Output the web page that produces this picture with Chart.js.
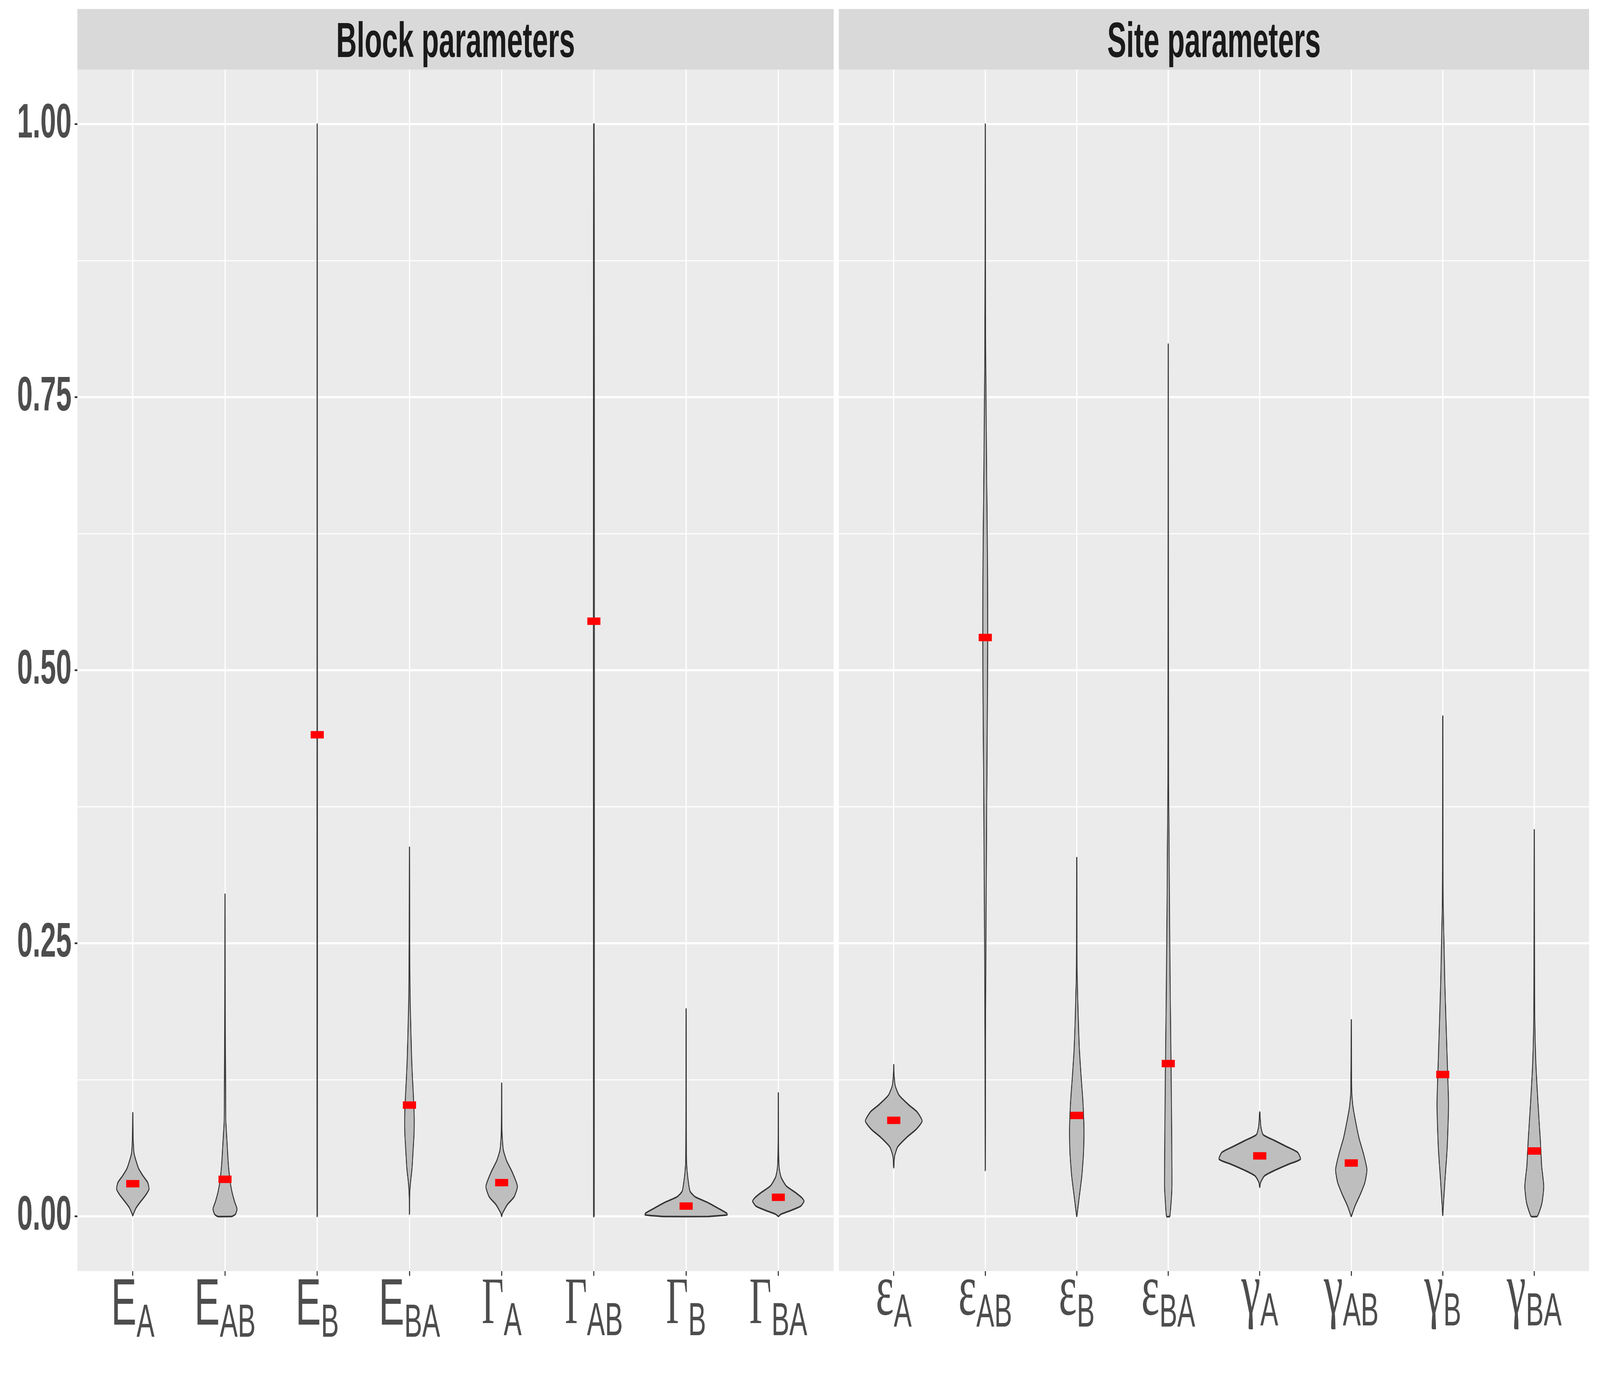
<!DOCTYPE html>
<html>
<head>
<meta charset="utf-8">
<script src="https://cdn.jsdelivr.net/npm/chart.js@4.4.0/dist/chart.umd.min.js"></script>
<style>
  html, body { margin: 0; padding: 0; background: #FFFFFF; overflow: hidden; }
  #wrap { position: relative; width: 100vw; height: 100vh; }
  #wrap canvas { position: absolute; left: 0; top: 0; }
</style>
</head>
<body>
<div id="wrap">
  <canvas id="block" width="7086" height="3543" style="width: 100vw; height: 100vh;"></canvas>
  <canvas id="site" width="7086" height="3543" style="width: 100vw; height: 100vh;"></canvas>
</div>
<script>
// categories (symbol + subscript)
const blockSymbols = ['E', 'E', 'E', 'E', 'Γ', 'Γ', 'Γ', 'Γ'];
const siteSymbols = ['ε', 'ε', 'ε', 'ε', 'γ', 'γ', 'γ', 'γ'];
const subscripts = ['A', 'AB', 'B', 'BA', 'A', 'AB', 'B', 'BA'];
const yTicks = [0, 0.25, 0.5, 0.75, 1.0];

// red marks
const blockMeans = [0.030, 0.034, 0.441, 0.102, 0.031, 0.545, 0.0095, 0.0176];
const siteMeans = [0.088, 0.530, 0.0925, 0.140, 0.0555, 0.049, 0.130, 0.060];

// violin profiles: [value, relative width]
const violinEA = [[0.0006, 0.002], [0.002, 0.012], [0.0079, 0.08], [0.0137, 0.19], [0.019, 0.30], [0.025, 0.39], [0.031, 0.36], [0.037, 0.25], [0.044, 0.14], [0.052, 0.07], [0.058, 0.03], [0.066, 0.015], [0.08, 0.005], [0.095, 0.002]];
const violinEAB = [[0, 0.17], [0.002, 0.25], [0.0069, 0.29], [0.0137, 0.23], [0.023, 0.165], [0.033, 0.12], [0.048, 0.08], [0.0675, 0.05], [0.087, 0.02], [0.119, 0.015], [0.148, 0.01], [0.2, 0.006], [0.25, 0.004], [0.295, 0.002]];
const violinEB = [[0, 0.004], [0.25, 0.005], [0.5, 0.004], [0.75, 0.003], [1.0, 0.002]];
const violinEBA = [[0.002, 0.002], [0.0175, 0.004], [0.029, 0.02], [0.044, 0.062], [0.0617, 0.09], [0.075, 0.11], [0.0906, 0.115], [0.11, 0.096], [0.129, 0.07], [0.148, 0.05], [0.17, 0.035], [0.2, 0.016], [0.25, 0.006], [0.338, 0.002]];
const violinGA = [[0, 0.002], [0.003, 0.02], [0.011, 0.14], [0.018, 0.30], [0.0276, 0.38], [0.041, 0.25], [0.051, 0.12], [0.061, 0.04], [0.076, 0.01], [0.1, 0.004], [0.122, 0.002]];
const violinGAB = [[0, 0.008], [0.25, 0.01], [0.55, 0.012], [0.8, 0.01], [1.0, 0.006]];
const violinGB = [[0, 0.55], [0.0015, 0.99], [0.003, 0.98], [0.008, 0.75], [0.013, 0.51], [0.018, 0.22], [0.023, 0.096], [0.031, 0.057], [0.041, 0.026], [0.051, 0.01], [0.08, 0.005], [0.12, 0.003], [0.19, 0.002]];
const violinGBA = [[0, 0.002], [0.002, 0.06], [0.0058, 0.32], [0.0095, 0.54], [0.014, 0.62], [0.017, 0.57], [0.022, 0.41], [0.028, 0.19], [0.036, 0.066], [0.043, 0.026], [0.053, 0.01], [0.08, 0.004], [0.113, 0.002]];

const violinEpsA = [[0.0445, 0.002], [0.055, 0.02], [0.0637, 0.096], [0.0726, 0.32], [0.080, 0.55], [0.0875, 0.69], [0.096, 0.56], [0.102, 0.37], [0.111, 0.13], [0.12, 0.034], [0.132, 0.005], [0.139, 0.002]];
const violinEpsAB = [[0.042, 0.002], [0.1, 0.004], [0.16, 0.006], [0.2, 0.01], [0.25, 0.016], [0.30, 0.024], [0.363, 0.033], [0.399, 0.04], [0.4125, 0.041], [0.476, 0.054], [0.53, 0.06], [0.581, 0.057], [0.623, 0.049], [0.687, 0.032], [0.75, 0.019], [0.792, 0.01], [0.877, 0.004], [1.0, 0.002]];
const violinEpsB = [[0, 0.002], [0.0044, 0.017], [0.019, 0.064], [0.037, 0.123], [0.058, 0.164], [0.0786, 0.176], [0.105, 0.15], [0.126, 0.11], [0.153, 0.064], [0.185, 0.034], [0.221, 0.01], [0.25, 0.005], [0.3285, 0.002]];
const violinEpsBA = [[0, 0.04], [0.0133, 0.07], [0.028, 0.09], [0.0726, 0.084], [0.132, 0.07], [0.191, 0.052], [0.28, 0.03], [0.339, 0.02], [0.399, 0.008], [0.5, 0.005], [0.65, 0.003], [0.7986, 0.002]];
const violinGamA = [[0.0266, 0.002], [0.031, 0.02], [0.037, 0.11], [0.042, 0.35], [0.048, 0.71], [0.0525, 0.99], [0.0587, 0.92], [0.064, 0.65], [0.0697, 0.35], [0.075, 0.08], [0.0825, 0.026], [0.0956, 0.003]];
const violinGamAB = [[0, 0.002], [0.0095, 0.09], [0.020, 0.216], [0.031, 0.33], [0.043, 0.38], [0.057, 0.30], [0.0715, 0.19], [0.086, 0.11], [0.1, 0.044], [0.112, 0.014], [0.14, 0.005], [0.18, 0.002]];
const violinGamB = [[0.001, 0.002], [0.0095, 0.014], [0.031, 0.05], [0.0606, 0.104], [0.086, 0.13], [0.104, 0.14], [0.141, 0.11], [0.177, 0.08], [0.214, 0.05], [0.25, 0.03], [0.287, 0.01], [0.323, 0.005], [0.458, 0.002]];
const violinGamBA = [[0, 0.074], [0.004, 0.12], [0.013, 0.19], [0.0277, 0.23], [0.046, 0.18], [0.068, 0.15], [0.104, 0.09], [0.141, 0.038], [0.177, 0.014], [0.214, 0.008], [0.28, 0.004], [0.354, 0.002]];

const blockViolins = [violinEA, violinEAB, violinEB, violinEBA, violinGA, violinGAB, violinGB, violinGBA];
const siteViolins = [violinEpsA, violinEpsAB, violinEpsB, violinEpsBA, violinGamA, violinGamAB, violinGamB, violinGamBA];

const HALF = 0.45;
const SANS = '"Liberation Sans", Arial, sans-serif';
const SERIF = '"Liberation Serif", "DejaVu Serif", serif';

const isMajor = v => yTicks.some(t => Math.abs(t - v) < 1e-6);

const violinDataset = (profile, pos) => {
  const right = profile.map(([v, w]) => ({x: pos + w * HALF, y: v}));
  const left = profile.slice().reverse().map(([v, w]) => ({x: pos - w * HALF, y: v}));
  return {
    type: 'line',
    data: [...right, ...left, right[0]],
    borderColor: '#333333',
    borderWidth: 4,
    backgroundColor: '#BEBEBE',
    fill: 'shape',
    pointRadius: 0,
    tension: 0.2,
    order: 1
  };
};

const panelPlugin = {
  id: 'panel',
  beforeDraw(chart, args, opts) {
    const {ctx, chartArea} = chart;
    ctx.save();
    ctx.fillStyle = '#EBEBEB';
    ctx.fillRect(chartArea.left, chartArea.top, chartArea.right - chartArea.left, chartArea.bottom - chartArea.top);
    ctx.fillStyle = '#D9D9D9';
    ctx.fillRect(chartArea.left, 23, chartArea.right - chartArea.left, 155);
    ctx.fillStyle = '#1A1A1A';
    ctx.font = 'bold 126px ' + SANS;
    ctx.textAlign = 'center';
    ctx.textBaseline = 'alphabetic';
    ctx.fillText(opts.title, (chartArea.left + chartArea.right) / 2, 146);
    ctx.restore();
  },
  afterDraw(chart, args, opts) {
    const {ctx} = chart;
    const xs = chart.scales.x;
    ctx.save();
    ctx.fillStyle = '#4D4D4D';
    ctx.textAlign = 'left';
    ctx.textBaseline = 'alphabetic';
    const subFont = '119px ' + SANS;
    opts.symbols.forEach((sym, i) => {
      let mainFont;
      if (/[A-Za-z]/.test(sym)) mainFont = '169px ' + SANS;
      else if (sym === sym.toUpperCase()) mainFont = '169px ' + SERIF;
      else mainFont = '190px ' + SERIF;
      ctx.font = mainFont;
      const mm = ctx.measureText(sym);
      ctx.font = subFont;
      const sw = ctx.measureText(opts.subs[i]).width;
      const cx = xs.getPixelForValue(i + 1);
      const left = cx - (mm.width + sw) / 2;
      const base = 3275 + mm.actualBoundingBoxAscent;
      ctx.font = mainFont;
      ctx.fillText(sym, left, base);
      ctx.font = subFont;
      ctx.fillText(opts.subs[i], left + mm.width, base + 31);
    });
    ctx.restore();
  }
};

const makeChart = (id, title, symbols, violins, means, padLeft, padRight, showY) => {
  const datasets = violins.map((p, i) => violinDataset(p, i + 1));
  datasets.push({
    type: 'scatter',
    data: means.map((m, i) => ({x: i + 1, y: m})),
    pointStyle: 'line',
    pointRadius: 29,
    pointBorderWidth: 19,
    pointBorderColor: '#FF0000',
    pointBackgroundColor: '#FF0000',
    order: 0
  });
  return new Chart(document.getElementById(id), {
    type: 'line',
    data: {datasets},
    plugins: [panelPlugin],
    options: {
      responsive: false,
      animation: false,
      devicePixelRatio: 1,
      events: [],
      layout: {padding: {top: 178, bottom: 0, left: padLeft, right: padRight}},
      plugins: {
        legend: {display: false},
        tooltip: {enabled: false},
        panel: {title: title, symbols: symbols, subs: subscripts}
      },
      scales: {
        x: {
          type: 'linear',
          min: 0.4,
          max: 8.6,
          afterFit: s => { s.height = 289; },
          border: {display: false},
          grid: {color: '#FFFFFF', lineWidth: 5.5, tickColor: '#333333', tickWidth: 4.5, tickLength: 12},
          ticks: {stepSize: 1, includeBounds: false, autoSkip: false, callback: () => ''}
        },
        y: {
          type: 'linear',
          min: -0.05,
          max: 1.05,
          afterFit: s => { s.width = showY ? 343 : 0; },
          border: {display: false},
          grid: {
            color: '#FFFFFF',
            lineWidth: c => (c.tick && isMajor(c.tick.value)) ? 5.5 : 2.7,
            drawTicks: showY,
            tickColor: c => (c.tick && isMajor(c.tick.value)) ? '#333333' : 'rgba(0,0,0,0)',
            tickWidth: 4.5,
            tickLength: 12
          },
          ticks: {
            display: showY,
            stepSize: 0.125,
            includeBounds: false,
            autoSkip: false,
            padding: 14,
            color: '#4D4D4D',
            font: {family: SANS, weight: 'bold', size: 124},
            callback: v => isMajor(v) ? v.toFixed(2) : ''
          }
        }
      }
    }
  });
};

makeChart('block', 'Block parameters', blockSymbols, blockViolins, blockMeans, 0, 7086 - 3692, true);
makeChart('site', 'Site parameters', siteSymbols, siteViolins, siteMeans, 3715, 20, false);
</script>
</body>
</html>
